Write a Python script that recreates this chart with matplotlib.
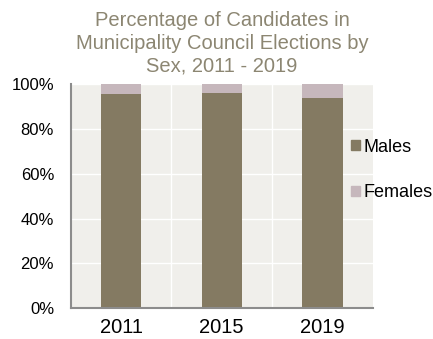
import numpy as np
import matplotlib.pyplot as plt
from matplotlib.patches import Patch

# Share of candidates by sex (%)
years = ["2011", "2015", "2019"]
males = [95.5, 96.1, 93.8]
females = [4.5, 3.9, 6.2]

male_color = "#847a62"
female_color = "#c6b7bc"
title_color = "#8c8672"

plt.rcParams["font.family"] = ["Liberation Sans", "DejaVu Sans"]

fig = plt.figure(figsize=(4.33, 3.39), dpi=100)
ax = fig.add_axes([0.1633, 0.0906, 0.6975, 0.6608])
ax.set_facecolor("#f0efeb")

x = np.arange(len(years))
ax.bar(x, males, width=0.4, color=male_color, zorder=3)
ax.bar(x, females, width=0.4, bottom=males, color=female_color, zorder=3)

ax.set_xlim(-0.5, 2.5)
ax.set_ylim(0, 100)
ax.set_yticks(np.arange(0, 101, 20))
ax.set_yticklabels([f"{v}%" for v in range(0, 101, 20)], fontsize=12)
ax.set_xticks(x)
ax.set_xticklabels(years, fontsize=14.5)
ax.set_xticks([0.5, 1.5], minor=True)
ax.tick_params(axis="both", which="both", length=0)
ax.tick_params(axis="x", pad=7)
ax.tick_params(axis="y", pad=12)

# white grid: horizontal at each 20%, vertical between categories
ax.grid(axis="y", color="white", linewidth=1.0, zorder=1)
ax.grid(axis="x", which="minor", color="white", linewidth=1.0, zorder=1)
ax.set_axisbelow(True)

for side in ["top", "right"]:
    ax.spines[side].set_visible(False)
for side in ["left", "bottom"]:
    ax.spines[side].set_color("#8c8c8c")
    ax.spines[side].set_linewidth(1.5)
    ax.spines[side].set_zorder(4)

fig.text(0.513, 0.968,
         "Percentage of Candidates in\nMunicipality Council Elections by\nSex, 2011 - 2019",
         ha="center", va="top", fontsize=14.5, color=title_color, linespacing=1.25)

handles = [Patch(color=male_color), Patch(color=female_color)]
fig.legend(handles, ["Males", "Females"], loc="center left",
           bbox_to_anchor=(351 / 433, (339 - 170) / 339),
           frameon=False, fontsize=13, handlelength=0.5, handleheight=0.5,
           handletextpad=0.2, labelspacing=1.6, borderpad=0, borderaxespad=0)

fig.savefig("out.png", dpi=100)
